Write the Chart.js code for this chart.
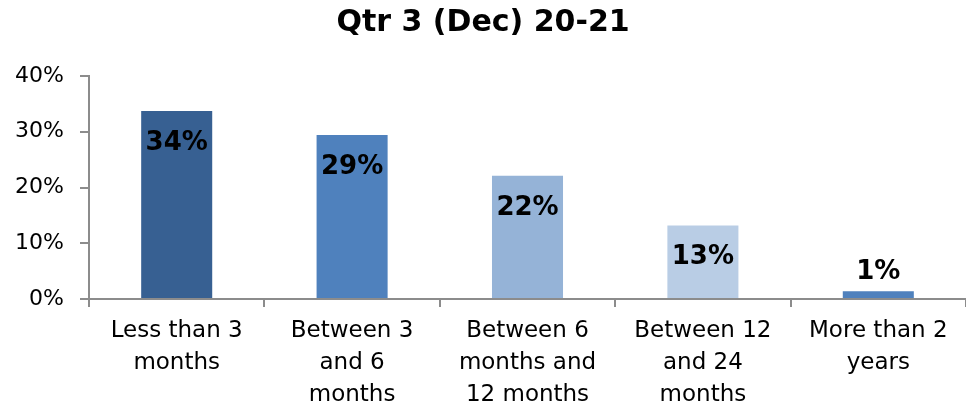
<!DOCTYPE html>
<html>
<head>
<meta charset="utf-8">
<script src="https://cdn.jsdelivr.net/npm/chart.js@4"></script>
<style>
  html, body { margin: 0; padding: 0; background: #fff; }
  #wrap { width: 966px; height: 414px; }
</style>
</head>
<body>
<div id="wrap"><canvas id="chart" width="966" height="414"></canvas></div>
<script>
// ==============================
// DADOS
// ==============================
const titulo = "Qtr 3 (Dec) 20-21";
const categorias = [
  ["Less than 3", "months"],
  ["Between 3", "and 6", "months"],
  ["Between 6", "months and", "12 months"],
  ["Between 12", "and 24", "months"],
  ["More than 2", "years"]
];
const valores = [33.7, 29.4, 22.1, 13.2, 1.4];
const cores = ["#376092", "#4f81bd", "#95b3d7", "#b9cde5", "#4f81bd"];
const yTicks = [0, 10, 20, 30, 40];

const FONTE = "'DejaVu Sans', sans-serif";
const CINZA = "#8c8c8c";

// ==============================
// RÓTULOS DAS BARRAS
// ==============================
const rotulosPlugin = {
  id: "rotulos",
  afterDatasetsDraw(chart) {
    const ctx = chart.ctx;
    const meta = chart.getDatasetMeta(0);
    ctx.save();
    ctx.font = "bold 26px " + FONTE;
    ctx.fillStyle = "#000";
    ctx.textAlign = "center";
    ctx.textBaseline = "middle";
    meta.data.forEach((bar, i) => {
      const txt = Math.round(valores[i]) + "%";
      const altura = bar.base - bar.y;
      const y = altura > 45 ? bar.y + 32 : bar.y - 19;
      ctx.fillText(txt, bar.x, y);
    });
    ctx.restore();
  }
};

// ==============================
// GRÁFICO
// ==============================
new Chart(document.getElementById("chart"), {
  type: "bar",
  data: {
    labels: categorias,
    datasets: [{
      data: valores,
      backgroundColor: cores,
      borderWidth: 0,
      categoryPercentage: 1,
      barPercentage: 0.405
    }]
  },
  options: {
    responsive: false,
    animation: false,
    layout: { padding: { top: 0, right: 0, bottom: 0, left: 0 } },
    plugins: {
      legend: { display: false },
      tooltip: { enabled: false },
      title: {
        display: true,
        text: titulo,
        color: "#000",
        font: { family: FONTE, size: 30, weight: "bold" },
        padding: { top: 5, bottom: 35 }
      }
    },
    scales: {
      x: {
        offset: true,
        border: { display: true, color: CINZA, width: 2 },
        grid: {
          display: true,
          offset: true,
          drawOnChartArea: false,
          drawTicks: true,
          tickLength: 8,
          color: CINZA,
          lineWidth: 2
        },
        ticks: {
          color: "#000",
          autoSkip: false,
          maxRotation: 0,
          padding: 8,
          font: { family: FONTE, size: 23, lineHeight: 1.39 }
        },
        afterFit(scale) { scale.height = 115; }
      },
      y: {
        min: 0,
        max: 40,
        border: { display: true, color: CINZA, width: 2 },
        grid: {
          display: true,
          drawOnChartArea: false,
          drawTicks: true,
          tickLength: 9,
          color: CINZA,
          lineWidth: 2
        },
        afterBuildTicks(scale) {
          scale.ticks = yTicks.map(v => ({ value: v }));
        },
        ticks: {
          color: "#000",
          padding: 16,
          font: { family: FONTE, size: 22 },
          callback: v => v + "%"
        },
        afterFit(scale) { scale.width = 89; }
      }
    }
  },
  plugins: [rotulosPlugin]
});
</script>
</body>
</html>
